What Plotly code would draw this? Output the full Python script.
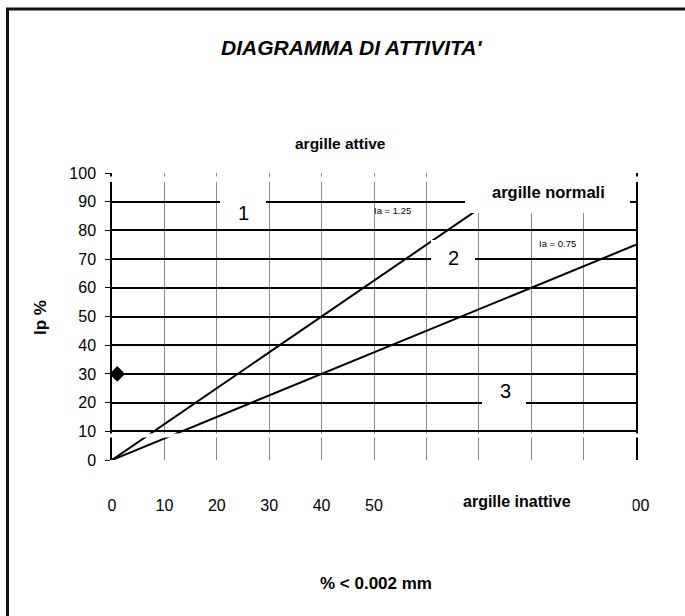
import plotly.graph_objects as go

# ---- data ----
ia_high_x = [0, 80]
ia_high_y = [0, 100]
ia_low_x = [0, 100]
ia_low_y = [0, 75]
sample_x = [1]
sample_y = [30]
x_ticks = [0, 10, 20, 30, 40, 50, 60, 70, 80, 90, 100]
x_tick_labels = ["0", "10", "20", "30", "40", "50", "", "", "", "", "100"]
y_ticks = [0, 10, 20, 30, 40, 50, 60, 70, 80, 90, 100]

# ---- layout geometry (reference pixels) ----
WIDTH, HEIGHT = 685, 616
L, T, PW, PH = 112, 173, 524, 287


def px(x):
    return (x - L) / PW


def py(y):
    return (T + PH - y) / PH


FONT = "Liberation Sans, Arial, sans-serif"

fig = go.Figure()
fig.add_trace(go.Scatter(x=ia_high_x, y=ia_high_y, mode="lines",
                         line=dict(color="black", width=2), showlegend=False))
fig.add_trace(go.Scatter(x=ia_low_x, y=ia_low_y, mode="lines",
                         line=dict(color="black", width=2), showlegend=False))
fig.add_trace(go.Scatter(x=sample_x, y=sample_y, mode="markers",
                         marker=dict(symbol="diamond", size=12, color="black"),
                         showlegend=False, cliponaxis=False))

shapes = []
# outer frame (cropped at right/bottom)
shapes.append(dict(type="rect", xref="paper", yref="paper",
                   x0=px(7.5), x1=px(720), y0=py(650), y1=py(9),
                   line=dict(color="#111", width=3), fillcolor="rgba(0,0,0,0)",
                   layer="above"))


def white(x0, x1, y0, y1):
    shapes.append(dict(type="rect", xref="paper", yref="paper",
                       x0=px(x0), x1=px(x1), y0=py(y1), y1=py(y0),
                       line=dict(width=0), fillcolor="white", layer="above"))


white(104, 640, 176.5, 182)
white(95, 640, 433.5, 437.5)
white(465, 630, 172, 213)   # argille normali
white(220, 266, 190, 226)   # 1
white(431, 475, 240, 276)   # 2
white(482, 526, 376, 416)   # 3
white(395, 632.5, 488, 522)   # argille inattive

annotations = []


def ann(text, x, y, size, bold=False, italic=False):
    t = text
    if bold:
        t = "<b>" + t + "</b>"
    if italic:
        t = "<i>" + t + "</i>"
    annotations.append(dict(text=t, xref="paper", yref="paper", x=px(x), y=py(y),
                            xanchor="center", yanchor="middle", showarrow=False,
                            font=dict(family=FONT, size=size, color="black")))


ann("DIAGRAMMA DI ATTIVITA'", 351, 47, 21, bold=True, italic=True)
ann("argille attive", 340, 143, 15.5, bold=True)
ann("argille normali", 548, 192, 16.5, bold=True)
ann("Ia = 1.25", 392, 210, 9.5)
ann("Ia = 0.75", 557, 243, 9.5)
ann("1", 243, 213, 20)
ann("2", 453, 258, 20)
ann("3", 505, 391, 20)
ann("argille inattive", 517, 501, 16, bold=True)
ann("% < 0.002 mm", 376, 583, 17, bold=True)
annotations.append(dict(text="<b>Ip %</b>", xref="paper", yref="paper", x=px(40), y=py(318),
                        xanchor="center", yanchor="middle", showarrow=False, textangle=-90,
                        font=dict(family=FONT, size=17, color="black")))

fig.update_layout(
    width=WIDTH, height=HEIGHT,
    margin=dict(l=L, r=WIDTH - L - PW, t=T, b=HEIGHT - T - PH, pad=0),
    paper_bgcolor="white", plot_bgcolor="white",
    shapes=shapes, annotations=annotations,
    font=dict(family=FONT, size=16, color="black"),
    hovermode=False,
    xaxis=dict(range=[0, 100], tickvals=x_ticks, ticktext=x_tick_labels,
               showgrid=True, gridcolor="#8a8a8a", gridwidth=1, zeroline=False,
               showline=False, ticks="", ticklabelstandoff=34, automargin=False,
               tickfont=dict(family=FONT, size=16)),
    yaxis=dict(range=[0, 100], tickvals=y_ticks, ticktext=[str(v) for v in y_ticks],
               showgrid=True, gridcolor="black", gridwidth=2, zeroline=False,
               showline=True, linecolor="black", linewidth=1.5, mirror=True,
               ticks="outside", ticklen=5, tickcolor="black", tickwidth=1,
               ticklabelstandoff=6,
               automargin=False, tickfont=dict(family=FONT, size=16)),
)

fig.write_html("out.html", config={"displayModeBar": False},
               post_script="document.body.style.margin='0';document.body.style.overflow='hidden';")
